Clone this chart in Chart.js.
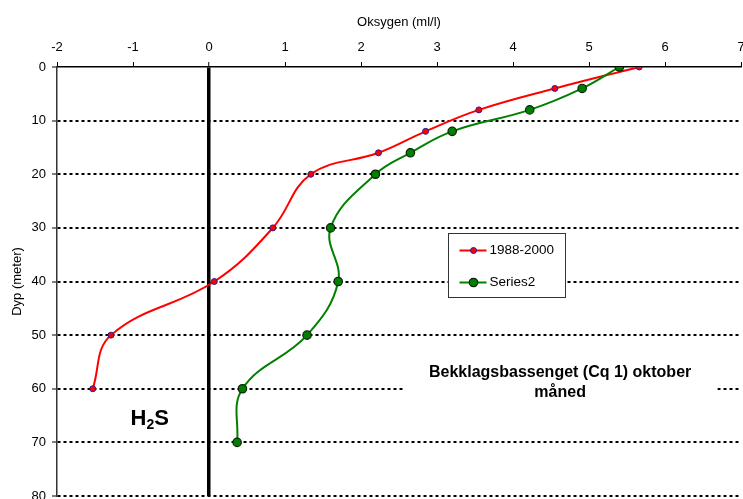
<!DOCTYPE html>
<html lang="no">
<head>
<meta charset="UTF-8">
<title>Oksygen - Bekklagsbassenget</title>
<script src="https://cdn.jsdelivr.net/npm/chart.js"></script>
<style>
  html, body { margin: 0; padding: 0; overflow: hidden; background: #fff; }
  #wrap { width: 750px; height: 499px; overflow: hidden; }
</style>
</head>
<body>
<div id="wrap"><canvas id="myChart" width="750" height="510"></canvas></div>
<script>
// data lest av figuren
const dybde1 = [0, 4, 8, 12, 16, 20, 30, 40, 50, 60];
const oksygen1 = [5.66, 4.55, 3.55, 2.85, 2.23, 1.34, 0.84, 0.07, -1.29, -1.53];
const dybde2 = [0, 4, 8, 12, 16, 20, 30, 40, 50, 60, 70];
const oksygen2 = [5.40, 4.91, 4.22, 3.20, 2.65, 2.19, 1.60, 1.70, 1.29, 0.44, 0.37];
const serieNavn = ["1988-2000", "Series2"];
const xAkse = { min: -2, max: 7, steg: 1 };
const yAkse = { min: 0, max: 80, steg: 10 };

const FONT = "'Liberation Sans', Arial, sans-serif";
Chart.defaults.font.family = FONT;
Chart.defaults.font.size = 13;
Chart.defaults.color = "#000";

const tilPunkter = (xs, ys) => xs.map((v, i) => ({ x: v, y: ys[i] }));

// tekst, legend og H2S-merke
const ekstra = {
  id: "ekstra",
  afterDraw(chart) {
    const { ctx, scales: { x, y } } = chart;
    ctx.save();

    // legend-boks
    const lx = Math.round(x.getPixelForValue(3.15)) + 0.5;
    const ly = Math.round(y.getPixelForValue(31)) + 0.5;
    ctx.fillStyle = "#fff";
    ctx.strokeStyle = "#333";
    ctx.lineWidth = 1;
    ctx.fillRect(lx, ly, 117, 64);
    ctx.strokeRect(lx, ly, 117, 64);
    chart.data.datasets.forEach((ds, i) => {
      const ry = ly + 17 + i * 32;
      ctx.strokeStyle = ds.borderColor;
      ctx.lineWidth = 2;
      ctx.beginPath();
      ctx.moveTo(lx + 11, ry);
      ctx.lineTo(lx + 38, ry);
      ctx.stroke();
      ctx.beginPath();
      ctx.arc(lx + 25, ry, ds.pointRadius, 0, Math.PI * 2);
      ctx.fillStyle = ds.pointBackgroundColor;
      ctx.fill();
      ctx.lineWidth = ds.pointBorderWidth;
      ctx.strokeStyle = ds.pointBorderColor;
      ctx.stroke();
      ctx.fillStyle = "#000";
      ctx.font = "13.5px " + FONT;
      ctx.textBaseline = "middle";
      ctx.textAlign = "left";
      ctx.fillText(ds.label, lx + 41, ry);
    });

    // stasjonstekst
    const tx = x.getPixelForValue(4.62);
    const t1 = y.getPixelForValue(57.0);
    const t2 = y.getPixelForValue(60.75);
    ctx.font = "bold 16px " + FONT;
    const linje1 = "Bekklagsbassenget (Cq 1) oktober";
    const w = ctx.measureText(linje1).width;
    ctx.fillStyle = "#fff";
    ctx.fillRect(tx - w / 2 - 26, t1 - 16, w + 52, 46);
    ctx.fillStyle = "#000";
    ctx.textAlign = "center";
    ctx.textBaseline = "middle";
    ctx.fillText(linje1, tx, t1);
    ctx.fillText("måned", tx, t2);

    // H2S
    const hx = x.getPixelForValue(-0.78);
    const hy = y.getPixelForValue(65.2);
    ctx.font = "bold 22px " + FONT;
    const wH = ctx.measureText("H").width;
    const wS = ctx.measureText("S").width;
    ctx.font = "bold 14px " + FONT;
    const w2 = ctx.measureText("2").width;
    let px = hx - (wH + w2 + wS) / 2;
    ctx.textAlign = "left";
    ctx.textBaseline = "alphabetic";
    const base = hy + 8;
    ctx.font = "bold 22px " + FONT;
    ctx.fillText("H", px, base);
    px += wH;
    ctx.font = "bold 14px " + FONT;
    ctx.fillText("2", px, base + 4);
    px += w2;
    ctx.font = "bold 22px " + FONT;
    ctx.fillText("S", px, base);

    ctx.restore();
  }
};

const ctx = document.getElementById("myChart").getContext("2d");

new Chart(ctx, {
  type: "scatter",
  data: {
    datasets: [
      {
        label: serieNavn[0],
        data: tilPunkter(oksygen1, dybde1),
        showLine: true,
        borderColor: "#ff0000",
        borderWidth: 2,
        tension: 0.4,
        pointRadius: 3,
        pointBackgroundColor: "#ff0000",
        pointBorderColor: "#2020a0",
        pointBorderWidth: 1,
        order: 2
      },
      {
        label: serieNavn[1],
        data: tilPunkter(oksygen2, dybde2),
        showLine: true,
        borderColor: "#008000",
        borderWidth: 2,
        tension: 0.4,
        pointRadius: 4.2,
        pointBackgroundColor: "#008000",
        pointBorderColor: "#0a200a",
        pointBorderWidth: 1.2,
        order: 1
      }
    ]
  },
  options: {
    responsive: false,
    animation: false,
    layout: { padding: { left: 0, top: 0, right: 9, bottom: 14 } },
    plugins: { legend: { display: false }, tooltip: { enabled: false } },
    scales: {
      x: {
        type: "linear",
        position: "top",
        min: xAkse.min,
        max: xAkse.max,
        ticks: { stepSize: xAkse.steg, padding: 7 },
        grid: {
          color: (c) => (c.tick && c.tick.value === 0 ? "#000" : "rgba(0,0,0,0)"),
          lineWidth: (c) => (c.tick && c.tick.value === 0 ? 3.5 : 1),
          tickColor: "#000",
          tickLength: 5,
          tickWidth: 1
        },
        border: { display: true, color: "#000", width: 1.5 },
        title: { display: true, text: "Oksygen (ml/l)", padding: { top: 15, bottom: 0 } },
        afterFit: (s) => { s.height = 67; s.paddingRight = 0; s.paddingLeft = 0; }
      },
      y: {
        type: "linear",
        reverse: true,
        min: yAkse.min,
        max: yAkse.max,
        ticks: { stepSize: yAkse.steg, padding: 6 },
        grid: {
          color: (c) => (c.tick && c.tick.value === 0 ? "rgba(0,0,0,0)" : "#000"),
          lineWidth: 2,
          tickColor: "#000",
          tickLength: 5,
          tickWidth: 1,
          tickBorderDash: []
        },
        border: { display: true, color: "#333", width: 1.5, dash: [3, 3] },
        title: { display: true, text: "Dyp (meter)", padding: { top: 10, bottom: 0 } },
        afterFit: (s) => { s.width = 57; }
      }
    }
  },
  plugins: [ekstra]
});
</script>
</body>
</html>
